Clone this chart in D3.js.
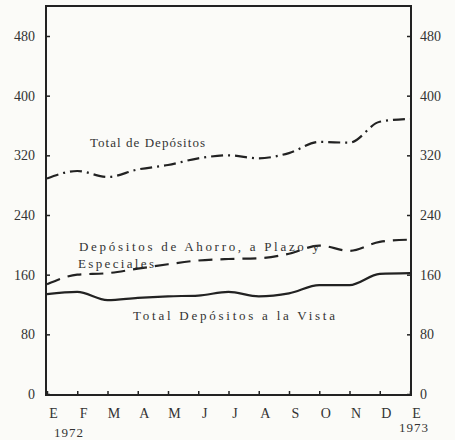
<!DOCTYPE html>
<html>
<head>
<meta charset="utf-8">
<script src="https://cdn.jsdelivr.net/npm/d3@7"></script>
<style>
  body { margin: 0; background: #fbfbf8; }
  svg { display: block; }
</style>
</head>
<body>
<div id="chart"></div>
<script>
// months Jan 1972 .. Jan 1973
var months = ["E", "F", "M", "A", "M", "J", "J", "A", "S", "O", "N", "D", "E"];
var yTicks = [0, 80, 160, 240, 320, 400, 480];

// values
var totalDepositos = [289, 299, 291, 301, 307, 316, 320, 316, 323, 338, 337, 365, 369];
var ahorroPlazo = [147, 160, 162, 168, 174, 179, 181, 182, 188, 199, 192, 204, 207];
var vista = [134, 137, 126, 129, 131, 132, 137, 131, 135, 146, 146, 161, 162];

var svgWidth = 455, svgHeight = 440;
var plotLeft = 46, plotRight = 411, plotTop = 6, plotBottom = 395;

var svg = d3.select("#chart").append("svg")
    .attr("width", svgWidth)
    .attr("height", svgHeight);

var x = d3.scaleLinear().domain([0, 12]).range([plotLeft + 1, plotRight - 1]);
var y = d3.scaleLinear().domain([0, 480]).range([plotBottom - 1, 36]);

var ink = "#222";
var font = "Liberation Serif";

// frame
svg.append("rect")
    .attr("x", plotLeft).attr("y", plotTop)
    .attr("width", plotRight - plotLeft).attr("height", plotBottom - plotTop)
    .attr("fill", "none").attr("stroke", ink).attr("stroke-width", 2);

// left axis
var yl = svg.append("g")
    .attr("transform", "translate(" + plotLeft + ",0)")
    .call(d3.axisLeft(y).tickValues(yTicks).tickSize(-4).tickPadding(11));
// right axis
var yr = svg.append("g")
    .attr("transform", "translate(" + plotRight + ",0)")
    .call(d3.axisRight(y).tickValues(yTicks).tickSize(-4).tickPadding(9));
// bottom axis
var xb = svg.append("g")
    .attr("transform", "translate(0," + plotBottom + ")")
    .call(d3.axisBottom(x).ticks(13).tickFormat(function(d, i) { return months[i]; })
      .tickSize(-4).tickPadding(13));

[yl, yr, xb].forEach(function(g) {
  g.select(".domain").remove();
  g.selectAll(".tick line").attr("stroke", ink).attr("stroke-width", 1.5);
  g.selectAll(".tick text")
    .attr("fill", "#333")
    .style("font-family", font)
    .style("font-size", "14px");
});
xb.selectAll(".tick text").attr("dx", 6);

svg.append("text").attr("x", 54).attr("y", 437)
    .attr("fill", "#333").style("font-family", font).style("font-size", "13px")
    .style("letter-spacing", "1px").text("1972");
svg.append("text").attr("x", 399).attr("y", 432)
    .attr("fill", "#333").style("font-family", font).style("font-size", "13px")
    .style("letter-spacing", "1px").text("1973");

var line = d3.line()
    .x(function(d, i) { return x(i); })
    .y(function(d) { return y(d); })
    .curve(d3.curveMonotoneX);

svg.append("path").datum(totalDepositos)
    .attr("d", line).attr("fill", "none").attr("stroke", ink)
    .attr("stroke-width", 2.2).attr("stroke-dasharray", "12,5,2,5");
svg.append("path").datum(ahorroPlazo)
    .attr("d", line).attr("fill", "none").attr("stroke", ink)
    .attr("stroke-width", 2.2).attr("stroke-dasharray", "14,8");
svg.append("path").datum(vista)
    .attr("d", line).attr("fill", "none").attr("stroke", ink)
    .attr("stroke-width", 2.2);

// labels, stretched like the typed originals
function label(tx, ty, str, w) {
  svg.append("text").attr("x", tx).attr("y", ty)
    .attr("fill", "#333").style("font-family", font).style("font-size", "13px")
    .attr("textLength", w).attr("lengthAdjust", "spacing")
    .text(str);
}
label(90, 147, "Total de Depósitos", 115);
label(79, 251, "Depósitos de Ahorro, a Plazo y", 240);
label(78, 268, "Especiales", 76);
label(133, 320, "Total Depósitos a la Vista", 202);
</script>
</body>
</html>
